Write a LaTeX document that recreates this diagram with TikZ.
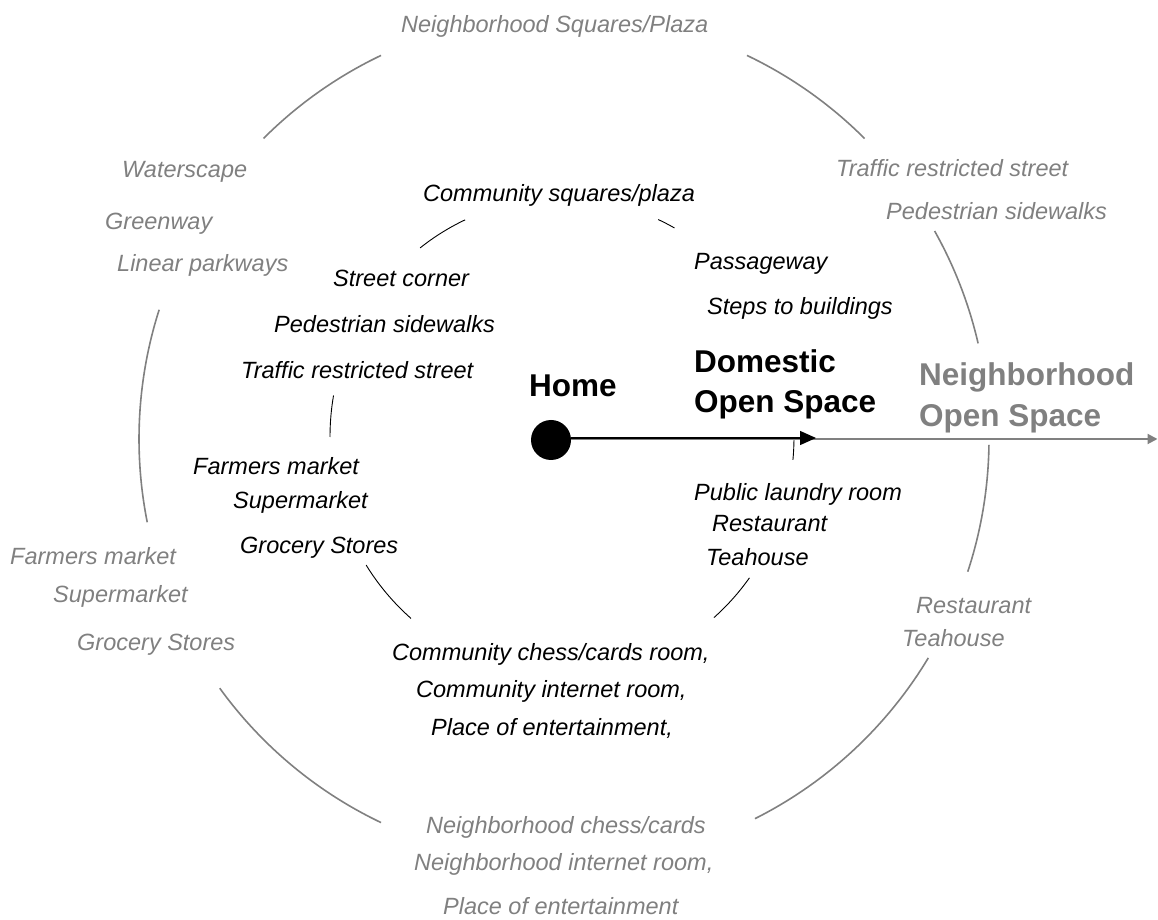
\documentclass[tikz,border=0pt]{standalone}
\usepackage{fontspec}
\setmainfont{Liberation Sans}
\usetikzlibrary{arrows.meta}
\definecolor{gr}{HTML}{808080}
\tikzset{
  lbl/.style={anchor=base west, inner sep=0pt, font=\fontsize{23.5}{28}\selectfont\itshape},
  glbl/.style={lbl, text=gr},
  headlbl/.style={anchor=base west, inner sep=0pt, align=left, font=\fontsize{31.5}{40}\selectfont\bfseries},
  gheadlbl/.style={headlbl, text=gr, font=\fontsize{31.5}{41}\selectfont\bfseries},
  outerarc/.style={draw=gr, line width=1.6pt},
  innerarc/.style={draw=black, line width=0.9pt},
  homedot/.style={circle, fill=black, minimum size=40pt, inner sep=0pt},
}
\begin{document}
\begin{tikzpicture}[x=1pt,y=1pt]
\useasboundingbox (0,0) rectangle (1158,919);
\coordinate (oc) at (564,480);
\coordinate (ic) at (562,482);
% outer ring
\foreach \a/\b in {115.5/135, 45/64.5, 13/29.3, -18.2/-0.8, -63.3/-31, 215.9/244.5, 162.3/191.3}
  \draw[outerarc] ([shift={(\a:425pt)}]oc) arc[start angle=\a, end angle=\b, radius=425pt];
% inner ring
\foreach \a/\b in {114.7/127.7, 61/65.5, 170/180, -5.5/-0.7, 212.4/229.4, -49.1/-36.1}
  \draw[innerarc] ([shift={(\a:232pt and 239pt)}]ic) arc[start angle=\a, end angle=\b, x radius=232pt, y radius=239pt];
% home dot and arrows
\node[homedot] (home) at (551,479) {};
\coordinate (gtip) at (1157.5,480);
\coordinate (btip) at (816,481);
\draw[gr, line width=2pt, -{Triangle[length=10pt,width=10pt]}] (home.east |- gtip) -- (gtip);
\draw[black, line width=1.4pt, -{Triangle[length=16pt,width=14pt]}] (home.east |- btip) -- (btip);
% headings
\node[headlbl] (hhome) at (529,522) {Home};
\node[headlbl] (hdom) at (694,506) {Domestic\\Open Space};
\node[gheadlbl] (hnbr) at (919,492) {Neighborhood\\Open Space};
% outer (grey) labels
\node[glbl] (nsq) at (401,886) {Neighborhood Squares/Plaza};
\node[glbl] (water) at (122,741) {Waterscape};
\node[glbl] (green) at (105,689) {Greenway};
\node[glbl] (linear) at (117,647) {Linear parkways};
\node[glbl] (gtraffic) at (836,742) {Traffic restricted street};
\node[glbl] (gped) at (886,699) {Pedestrian sidewalks};
\node[glbl] (gfarm) at (10,355) {Farmers market};
\node[glbl] (gsuper) at (53,317) {Supermarket};
\node[glbl] (ggroc) at (77,269) {Grocery Stores};
\node[glbl] (grest) at (916,306) {Restaurant};
\node[glbl] (gtea) at (902,273) {Teahouse};
\node[glbl] (gchess) at (426,86) {Neighborhood chess/cards};
\node[glbl] (gint) at (414,49) {Neighborhood internet room,};
\node[glbl] (gplace) at (443,5) {Place of entertainment};
% inner (black) labels
\node[lbl] (csq) at (423,717) {Community squares/plaza};
\node[lbl] (corner) at (333,632) {Street corner};
\node[lbl] (ped) at (274,586) {Pedestrian sidewalks};
\node[lbl] (traffic) at (241,540) {Traffic restricted street};
\node[lbl] (pass) at (694,649) {Passageway};
\node[lbl] (steps) at (707,604) {Steps to buildings};
\node[lbl] (farm) at (193,444) {Farmers market};
\node[lbl] (super) at (233,410) {Supermarket};
\node[lbl] (groc) at (240,366) {Grocery Stores};
\node[lbl] (laundry) at (694,418) {Public laundry room};
\node[lbl] (rest) at (712,388) {Restaurant};
\node[lbl] (tea) at (706,354) {Teahouse};
\node[lbl] (chess) at (392,259) {Community chess/cards room,};
\node[lbl] (cint) at (416,222) {Community internet room,};
\node[lbl] (cplace) at (431,184) {Place of entertainment,};
\end{tikzpicture}
\end{document}
